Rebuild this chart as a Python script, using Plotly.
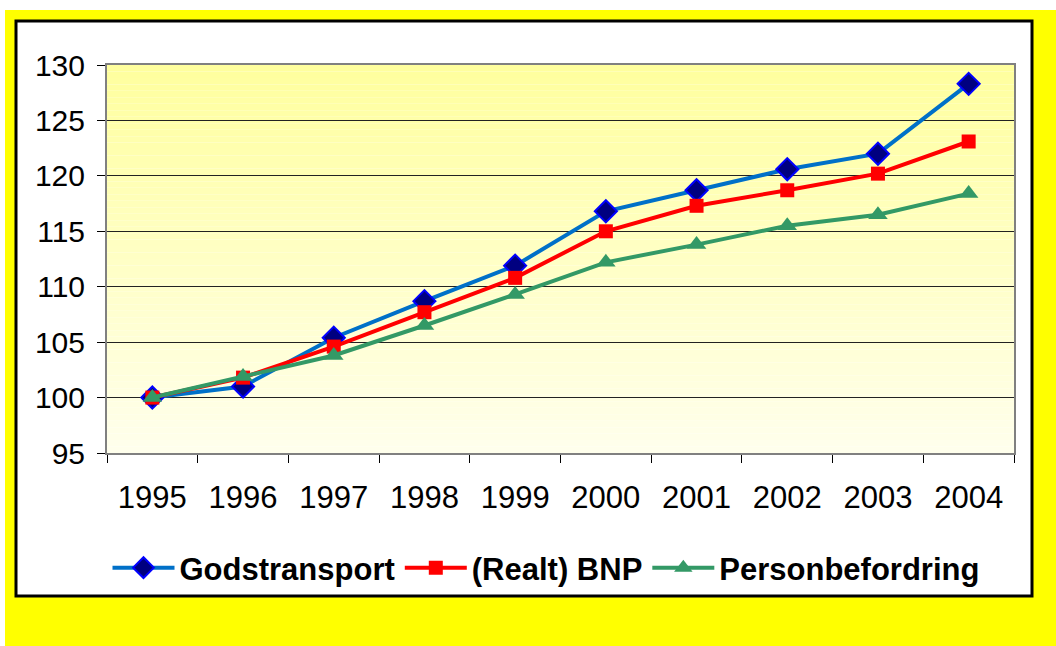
import plotly.graph_objects as go

years = ["1995", "1996", "1997", "1998", "1999", "2000", "2001", "2002", "2003", "2004"]
godstransport = [100.0, 101.0, 105.4, 108.7, 111.9, 116.8, 118.7, 120.6, 122.0, 128.3]
bnp = [100.0, 101.8, 104.6, 107.7, 110.8, 115.0, 117.3, 118.7, 120.2, 123.1]
personbefordring = [100.0, 101.9, 103.8, 106.5, 109.3, 112.2, 113.8, 115.5, 116.5, 118.4]
y_ticks = [95, 100, 105, 110, 115, 120, 125, 130]

W, H = 1056, 646
L, R, T, B = 107, 42, 65, 193
pw, ph = W - L - R, H - T - B

def px(x):
    return (x - L) / pw

def py(y):
    return 1 - (y - T) / ph

fig = go.Figure()
fig.add_trace(go.Scatter(
    x=years, y=godstransport, name="Godstransport", mode="lines+markers",
    line=dict(color="#0070C8", width=4),
    marker=dict(symbol="diamond", size=17, color="#000080", line=dict(color="#0000FF", width=2)),
))
fig.add_trace(go.Scatter(
    x=years, y=bnp, name="(Realt) BNP", mode="lines+markers",
    line=dict(color="#FF0000", width=4),
    marker=dict(symbol="square", size=14, color="#FF0000"),
))
fig.add_trace(go.Scatter(
    x=years, y=personbefordring, name="Personbefordring", mode="lines+markers",
    line=dict(color="#339966", width=4),
    marker=dict(symbol="triangle-up", size=17, color="#339966"),
))

shapes = []
# yellow outer frame
shapes.append(dict(type="rect", xref="paper", yref="paper",
                   x0=px(5), x1=px(1056), y0=py(646), y1=py(10),
                   fillcolor="#FFFF00", line=dict(width=0), layer="below"))
# white inner box with black border
shapes.append(dict(type="rect", xref="paper", yref="paper",
                   x0=px(16), x1=px(1032), y0=py(596), y1=py(21),
                   fillcolor="#FFFFFF", line=dict(color="#000000", width=3), layer="below"))
# gradient plot background
n = 60
c_top = (255, 255, 158)
c_bot = (255, 255, 236)
for i in range(n):
    f = i / (n - 1)
    col = tuple(round(c_top[k] + (c_bot[k] - c_top[k]) * f) for k in range(3))
    shapes.append(dict(type="rect", xref="x domain", yref="y domain",
                       x0=0, x1=1, y0=1 - (i + 1) / n, y1=1 - i / n,
                       fillcolor="rgb(%d,%d,%d)" % col, line=dict(width=0), layer="below"))

fig.update_layout(
    width=W, height=H,
    margin=dict(l=L, r=R, t=T, b=B),
    paper_bgcolor="#FFFFFF",
    plot_bgcolor="rgba(0,0,0,0)",
    font=dict(family="Liberation Sans, Arial, sans-serif", color="#000000"),
    shapes=shapes,
    showlegend=True,
    legend=dict(orientation="h", x=px(546), xanchor="center", y=py(568), yanchor="middle",
                font=dict(size=31, family="Liberation Sans, Arial, sans-serif", color="#000000", weight="bold"),
                bgcolor="rgba(0,0,0,0)", itemwidth=62, tracegroupgap=0),
    xaxis=dict(
        type="category", range=[-0.5, 9.5], tickson="boundaries", ticks="outside", ticklen=8,
        tickcolor="#000000", showgrid=False, showline=True, linecolor="#808080",
        linewidth=2, mirror=True, tickfont=dict(size=31), ticklabelstandoff=16,
        zeroline=False,
    ),
    yaxis=dict(
        range=[95, 130], tickvals=y_ticks, ticks="outside", ticklen=8,
        tickcolor="#000000", showgrid=True, gridcolor="#222222", gridwidth=1,
        showline=True, linecolor="#808080", linewidth=2, mirror=True,
        tickfont=dict(size=30), zeroline=False, ticklabelstandoff=6,
    ),
)

fig.write_html("out.html", config={"displayModeBar": False},
               post_script="document.body.style.margin='0';document.body.style.padding='0';")
